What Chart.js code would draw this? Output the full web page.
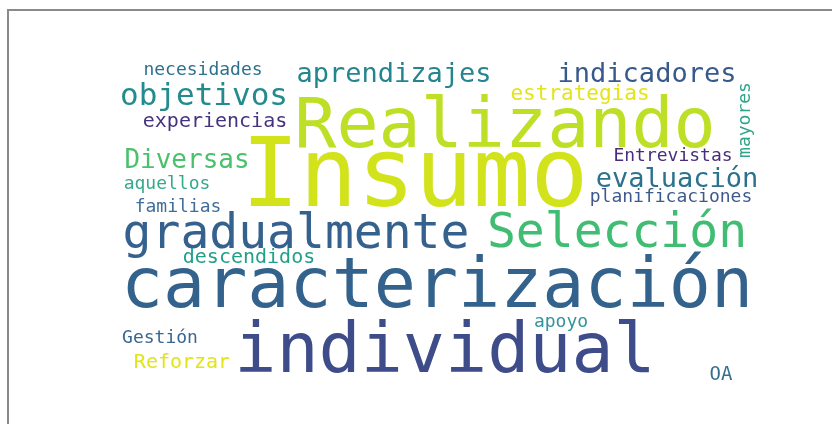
<!DOCTYPE html>
<html>
<head>
<meta charset="utf-8">
<script src="https://cdn.jsdelivr.net/npm/chart.js@4"></script>
<style>
    body { margin: 0; background: #ffffff; overflow: hidden; }
    #wrap { position: relative; width: 832px; height: 424px; }
    #frame {
        position: absolute; left: 7px; top: 9px; width: 900px; height: 500px;
        border-left: 2px solid #8a8a8a; border-top: 2px solid #8a8a8a;
    }
    #cloud { position: absolute; left: 0; top: 0; }
</style>
</head>
<body>
<div id="wrap">
    <div id="frame"></div>
    <canvas id="cloud" width="832" height="424"></canvas>
</div>
<script>
// words of the cloud, their weight (font px) and layout position (center x, baseline y)
const words = [
    "Insumo", "Realizando", "caracterización", "individual", "gradualmente",
    "Selección", "objetivos", "aprendizajes", "indicadores", "necesidades",
    "experiencias", "estrategias", "mayores", "Entrevistas", "evaluación",
    "planificaciones", "Diversas", "aquellos", "familias", "descendidos",
    "Gestión", "Reforzar", "apoyo", "OA"
];
const weights = [96, 70, 70, 70, 48, 48, 31, 27, 27, 18, 20, 21, 18, 18, 27, 18, 26, 18, 18, 20, 18, 20, 18, 19];
const posX = [415, 505, 437, 445, 296, 617, 204, 394, 647, 203, 215, 580, 750, 673, 677, 671, 187, 167, 178, 249, 160, 182, 561, 721];
const posY = [206, 147, 307, 372, 248, 247, 105, 82, 82, 75, 127, 100, 120, 161, 187, 202, 168, 189, 212, 263, 343, 368, 327, 380];
const rotated = [0, 0, 0, 0, 0, 0, 0, 0, 0, 0, 0, 0, 1, 0, 0, 0, 0, 0, 0, 0, 0, 0, 0, 0];
const colors = [
    "#d2e21b", "#bddf26", "#33638d", "#3e4c8a", "#34618d",
    "#40bd72", "#238a8d", "#25858e", "#38598c", "#2d708e",
    "#46337e", "#e5e419", "#2ea48a", "#472d7b", "#2c728e",
    "#3e5a8c", "#4ac16d", "#35a98c", "#3f6e9a", "#21a08a",
    "#3a6690", "#e2e418", "#31959b", "#37708f"
];

const wordLabels = {
    id: 'wordLabels',
    afterDatasetsDraw(chart) {
        const ctx = chart.ctx;
        const meta = chart.getDatasetMeta(0);
        meta.data.forEach((pt, i) => {
            ctx.save();
            ctx.font = weights[i] + 'px "DejaVu Sans Mono"';
            ctx.fillStyle = colors[i];
            ctx.textAlign = 'center';
            ctx.textBaseline = 'alphabetic';
            ctx.translate(pt.x, pt.y);
            if (rotated[i]) ctx.rotate(-Math.PI / 2);
            ctx.fillText(words[i], 0, 0);
            ctx.restore();
        });
    }
};

const points = words.map((w, i) => ({ x: posX[i], y: posY[i] }));

new Chart(document.getElementById('cloud').getContext('2d'), {
    type: 'scatter',
    data: {
        datasets: [{
            data: points,
            pointRadius: 0,
            pointHoverRadius: 0
        }]
    },
    options: {
        responsive: false,
        animation: false,
        layout: { padding: 0 },
        plugins: {
            legend: { display: false },
            tooltip: { enabled: false }
        },
        scales: {
            x: { type: 'linear', min: 0, max: 832, display: false },
            y: { type: 'linear', min: 0, max: 424, reverse: true, display: false }
        }
    },
    plugins: [wordLabels]
});
</script>
</body>
</html>
